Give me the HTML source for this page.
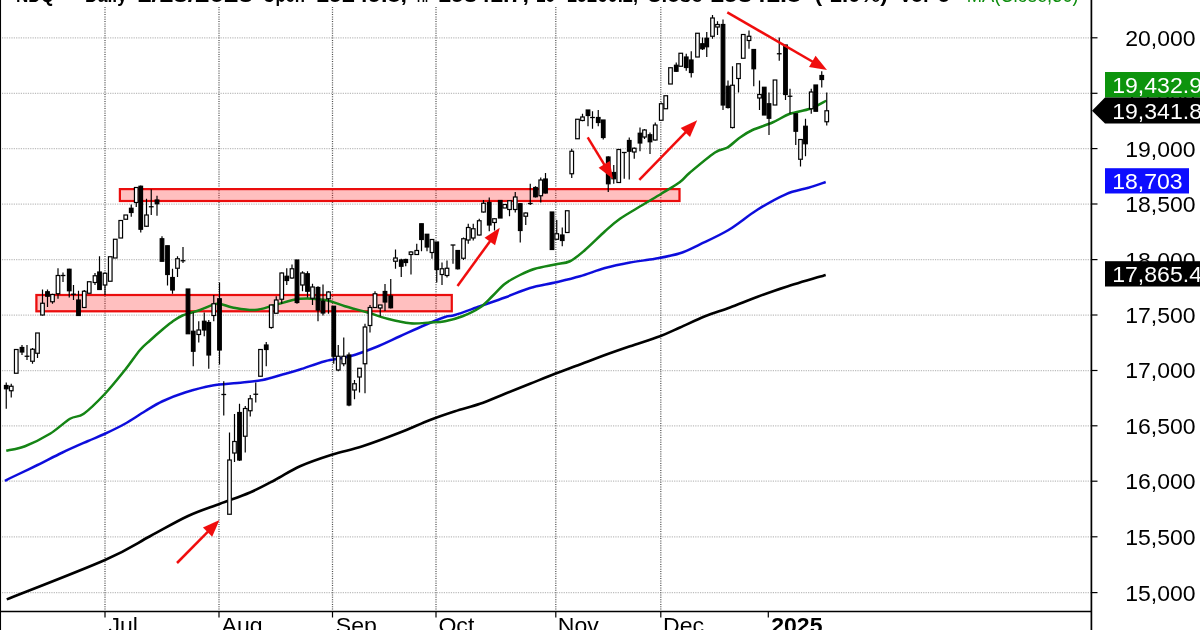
<!DOCTYPE html>
<html><head><meta charset="utf-8"><title>NDQ Daily Chart</title>
<style>html,body{margin:0;padding:0;background:#fff;overflow:hidden}svg{display:block}text{font-family:"Liberation Sans",Arial,sans-serif}</style>
</head><body>
<svg width="1200" height="630" viewBox="0 0 1200 630">
<defs><filter id="soft" x="-2%" y="-2%" width="104%" height="104%"><feGaussianBlur stdDeviation="0.45"/></filter></defs>
<rect width="1200" height="630" fill="#fff"/>
<g filter="url(#soft)">
<g stroke="#bdbdbd" stroke-width="1.25" stroke-dasharray="1.2 1.15" fill="none">
<line x1="2" y1="37.8" x2="1091" y2="37.8"/>
<line x1="2" y1="93.3" x2="1091" y2="93.3"/>
<line x1="2" y1="148.6" x2="1091" y2="148.6"/>
<line x1="2" y1="204.0" x2="1091" y2="204.0"/>
<line x1="2" y1="259.6" x2="1091" y2="259.6"/>
<line x1="2" y1="315.0" x2="1091" y2="315.0"/>
<line x1="2" y1="370.5" x2="1091" y2="370.5"/>
<line x1="2" y1="425.8" x2="1091" y2="425.8"/>
<line x1="2" y1="481.2" x2="1091" y2="481.2"/>
<line x1="2" y1="536.8" x2="1091" y2="536.8"/>
<line x1="2" y1="592.6" x2="1091" y2="592.6"/>
</g>
<g stroke="#505050" stroke-width="1.25" stroke-dasharray="1 1.35" fill="none">
<line x1="105.0" y1="7" x2="105.0" y2="611"/>
<line x1="219.0" y1="7" x2="219.0" y2="611"/>
<line x1="332.5" y1="7" x2="332.5" y2="611"/>
<line x1="436.0" y1="7" x2="436.0" y2="611"/>
<line x1="555.8" y1="7" x2="555.8" y2="611"/>
<line x1="660.8" y1="7" x2="660.8" y2="611"/>
</g>
<g fill="#ff0000" fill-opacity="0.25" stroke="#ea0808" stroke-width="2.2">
<rect x="36.4" y="295" width="415.4" height="16.3"/>
<rect x="119.9" y="189.1" width="559.6" height="11.9"/>
</g>
<path fill="none" stroke="#000" stroke-width="2.6" stroke-linejoin="round" d="M6.75,599.40 C23.12,592.83 81.12,570.52 105.00,560.00 C128.88,549.48 136.25,543.54 150.00,536.25 C163.75,528.96 175.83,521.67 187.50,516.25 C199.17,510.83 209.58,507.71 220.00,503.75 C230.42,499.79 240.83,496.46 250.00,492.50 C259.17,488.54 266.67,484.38 275.00,480.00 C283.33,475.62 290.42,470.50 300.00,466.25 C309.58,462.00 322.08,457.83 332.50,454.50 C342.92,451.17 351.25,449.92 362.50,446.25 C373.75,442.58 388.75,436.88 400.00,432.50 C411.25,428.12 420.83,423.54 430.00,420.00 C439.17,416.46 446.67,413.96 455.00,411.25 C463.33,408.54 471.67,406.67 480.00,403.75 C488.33,400.83 496.67,397.08 505.00,393.75 C513.33,390.42 521.67,387.08 530.00,383.75 C538.33,380.42 546.67,376.96 555.00,373.75 C563.33,370.54 571.67,367.62 580.00,364.50 C588.33,361.38 596.67,358.04 605.00,355.00 C613.33,351.96 620.83,349.38 630.00,346.25 C639.17,343.12 651.67,339.38 660.00,336.25 C668.33,333.12 672.50,330.83 680.00,327.50 C687.50,324.17 696.67,319.58 705.00,316.25 C713.33,312.92 721.33,310.71 730.00,307.50 C738.67,304.29 747.72,300.42 757.00,297.00 C766.28,293.58 774.25,290.68 785.70,287.00 C797.15,283.32 819.03,276.92 825.70,274.90"/>
<path fill="none" stroke="#1010dc" stroke-width="2.5" stroke-linejoin="round" d="M5.00,481.00 C6.25,480.33 7.08,479.67 12.50,477.00 C17.92,474.33 29.17,469.08 37.50,465.00 C45.83,460.92 54.17,456.46 62.50,452.50 C70.83,448.54 80.42,444.38 87.50,441.25 C94.58,438.12 98.75,436.67 105.00,433.75 C111.25,430.83 118.33,427.50 125.00,423.75 C131.67,420.00 138.75,415.00 145.00,411.25 C151.25,407.50 155.83,404.38 162.50,401.25 C169.17,398.12 176.67,395.12 185.00,392.50 C193.33,389.88 203.75,387.08 212.50,385.50 C221.25,383.92 229.17,383.92 237.50,383.00 C245.83,382.08 255.00,381.42 262.50,380.00 C270.00,378.58 276.25,376.25 282.50,374.50 C288.75,372.75 292.92,371.71 300.00,369.50 C307.08,367.29 316.67,363.46 325.00,361.25 C333.33,359.04 341.67,358.54 350.00,356.25 C358.33,353.96 366.67,350.83 375.00,347.50 C383.33,344.17 391.67,340.00 400.00,336.25 C408.33,332.50 417.50,328.21 425.00,325.00 C432.50,321.79 440.00,318.67 445.00,317.00 C450.00,315.33 449.17,316.79 455.00,315.00 C460.83,313.21 471.67,309.17 480.00,306.25 C488.33,303.33 496.67,300.54 505.00,297.50 C513.33,294.46 521.67,290.50 530.00,288.00 C538.33,285.50 546.67,284.46 555.00,282.50 C563.33,280.54 571.67,278.67 580.00,276.25 C588.33,273.83 596.67,270.29 605.00,268.00 C613.33,265.71 621.67,264.04 630.00,262.50 C638.33,260.96 646.67,260.29 655.00,258.75 C663.33,257.21 672.50,255.66 680.00,253.25 C687.50,250.84 691.92,248.18 700.00,244.30 C708.08,240.43 719.00,235.72 728.50,230.00 C738.00,224.28 747.47,215.95 757.00,210.00 C766.53,204.05 777.12,198.02 785.70,194.30 C794.28,190.58 801.83,189.75 808.50,187.70 C815.17,185.65 822.83,182.95 825.70,182.00"/>
<path fill="none" stroke="#128412" stroke-width="2.5" stroke-linejoin="round" d="M6.25,450.75 C9.38,450.00 17.71,449.08 25.00,446.25 C32.29,443.42 42.50,438.33 50.00,433.75 C57.50,429.17 64.38,422.08 70.00,418.75 C75.62,415.42 77.92,417.92 83.75,413.75 C89.58,409.58 98.12,401.04 105.00,393.75 C111.88,386.46 119.17,377.29 125.00,370.00 C130.83,362.71 135.83,354.92 140.00,350.00 C144.17,345.08 146.25,343.92 150.00,340.50 C153.75,337.08 158.83,332.58 162.50,329.50 C166.17,326.42 168.67,324.33 172.00,322.00 C175.33,319.67 177.83,317.50 182.50,315.50 C187.17,313.50 194.17,311.96 200.00,310.00 C205.83,308.04 212.08,304.17 217.50,303.75 C222.92,303.33 226.25,306.46 232.50,307.50 C238.75,308.54 247.92,310.42 255.00,310.00 C262.08,309.58 267.50,306.88 275.00,305.00 C282.50,303.12 291.67,299.58 300.00,298.75 C308.33,297.92 317.50,298.75 325.00,300.00 C332.50,301.25 337.92,304.17 345.00,306.25 C352.08,308.33 360.42,310.42 367.50,312.50 C374.58,314.58 380.42,316.96 387.50,318.75 C394.58,320.54 402.92,322.62 410.00,323.25 C417.08,323.88 424.17,322.83 430.00,322.50 C435.83,322.17 439.58,322.29 445.00,321.25 C450.42,320.21 456.67,318.54 462.50,316.25 C468.33,313.96 475.00,310.88 480.00,307.50 C485.00,304.12 488.33,299.96 492.50,296.00 C496.67,292.04 500.42,287.25 505.00,283.75 C509.58,280.25 515.00,277.50 520.00,275.00 C525.00,272.50 529.17,270.50 535.00,268.75 C540.83,267.00 549.17,265.75 555.00,264.50 C560.83,263.25 565.00,263.67 570.00,261.25 C575.00,258.83 579.17,255.00 585.00,250.00 C590.83,245.00 599.17,236.46 605.00,231.25 C610.83,226.04 613.75,223.12 620.00,218.75 C626.25,214.38 635.62,209.17 642.50,205.00 C649.38,200.83 655.00,197.58 661.25,193.75 C667.50,189.92 675.21,185.54 680.00,182.00 C684.79,178.46 684.17,177.42 690.00,172.50 C695.83,167.58 708.75,156.67 715.00,152.50 C721.25,148.33 723.33,150.00 727.50,147.50 C731.67,145.00 735.83,140.42 740.00,137.50 C744.17,134.58 747.08,132.50 752.50,130.00 C757.92,127.50 766.25,125.21 772.50,122.50 C778.75,119.79 783.75,116.04 790.00,113.75 C796.25,111.46 803.96,110.92 810.00,108.75 C816.04,106.58 823.54,102.08 826.25,100.75"/>
<g stroke="#000" stroke-width="1.2">
<line x1="6.25" y1="382.50" x2="6.25" y2="408.75"/>
<rect x="4.45" y="385.50" width="3.60" height="3.25" fill="#000"/>
<line x1="11.25" y1="383.75" x2="11.25" y2="397.50"/>
<rect x="9.45" y="386.25" width="3.60" height="4.50" fill="#fff"/>
<line x1="16.25" y1="349.50" x2="16.25" y2="373.25"/>
<rect x="14.45" y="349.50" width="3.60" height="23.75" fill="#fff"/>
<line x1="22.00" y1="345.00" x2="22.00" y2="355.00"/>
<rect x="20.20" y="347.50" width="3.60" height="4.50" fill="#000"/>
<line x1="27.00" y1="345.00" x2="27.00" y2="360.00"/>
<line x1="24.60" y1="356.25" x2="29.40" y2="356.25" stroke-width="1.3"/>
<line x1="32.50" y1="348.00" x2="32.50" y2="363.75"/>
<rect x="30.70" y="349.25" width="3.60" height="12.00" fill="#fff"/>
<line x1="37.50" y1="333.00" x2="37.50" y2="358.00"/>
<rect x="35.70" y="333.00" width="3.60" height="20.25" fill="#fff"/>
<line x1="42.50" y1="289.50" x2="42.50" y2="315.50"/>
<rect x="40.70" y="303.25" width="3.60" height="11.75" fill="#fff"/>
<line x1="47.50" y1="289.50" x2="47.50" y2="307.00"/>
<rect x="45.70" y="291.75" width="3.60" height="4.50" fill="#000"/>
<line x1="52.50" y1="293.75" x2="52.50" y2="303.75"/>
<rect x="50.70" y="294.50" width="3.60" height="7.25" fill="#fff"/>
<line x1="58.00" y1="268.25" x2="58.00" y2="298.75"/>
<rect x="56.20" y="275.50" width="3.60" height="18.25" fill="#fff"/>
<line x1="63.00" y1="272.50" x2="63.00" y2="282.00"/>
<line x1="60.60" y1="275.50" x2="65.40" y2="275.50" stroke-width="1.3"/>
<line x1="69.25" y1="268.75" x2="69.25" y2="297.50"/>
<rect x="67.45" y="269.25" width="3.60" height="21.50" fill="#000"/>
<line x1="73.50" y1="285.00" x2="73.50" y2="300.00"/>
<line x1="71.10" y1="294.25" x2="75.90" y2="294.25" stroke-width="1.3"/>
<line x1="78.50" y1="290.75" x2="78.50" y2="315.50"/>
<rect x="76.70" y="300.00" width="3.60" height="15.50" fill="#000"/>
<line x1="84.25" y1="290.00" x2="84.25" y2="308.00"/>
<rect x="82.45" y="291.25" width="3.60" height="16.25" fill="#fff"/>
<line x1="89.25" y1="281.75" x2="89.25" y2="293.25"/>
<rect x="87.45" y="281.75" width="3.60" height="11.50" fill="#fff"/>
<line x1="95.00" y1="273.00" x2="95.00" y2="285.00"/>
<rect x="93.20" y="275.75" width="3.60" height="6.75" fill="#fff"/>
<line x1="99.50" y1="256.25" x2="99.50" y2="290.00"/>
<rect x="97.70" y="272.00" width="3.60" height="17.50" fill="#000"/>
<line x1="105.00" y1="272.50" x2="105.00" y2="295.00"/>
<rect x="103.20" y="273.25" width="3.60" height="11.75" fill="#fff"/>
<line x1="110.25" y1="256.75" x2="110.25" y2="281.25"/>
<rect x="108.45" y="256.75" width="3.60" height="24.50" fill="#fff"/>
<line x1="115.25" y1="239.25" x2="115.25" y2="258.00"/>
<rect x="113.45" y="239.25" width="3.60" height="18.75" fill="#fff"/>
<line x1="120.75" y1="220.50" x2="120.75" y2="238.00"/>
<rect x="118.95" y="220.50" width="3.60" height="17.50" fill="#fff"/>
<line x1="125.75" y1="215.00" x2="125.75" y2="219.25"/>
<rect x="123.95" y="215.00" width="3.60" height="4.25" fill="#fff"/>
<line x1="131.25" y1="204.50" x2="131.25" y2="216.75"/>
<rect x="129.45" y="208.25" width="3.60" height="4.25" fill="#000"/>
<line x1="136.25" y1="187.50" x2="136.25" y2="207.00"/>
<rect x="134.45" y="187.50" width="3.60" height="15.00" fill="#fff"/>
<line x1="140.75" y1="185.50" x2="140.75" y2="232.50"/>
<rect x="138.95" y="186.25" width="3.60" height="43.00" fill="#000"/>
<line x1="146.50" y1="198.75" x2="146.50" y2="227.00"/>
<rect x="144.70" y="215.00" width="3.60" height="11.25" fill="#fff"/>
<line x1="151.25" y1="189.50" x2="151.25" y2="215.00"/>
<line x1="148.85" y1="206.75" x2="153.65" y2="206.75" stroke-width="1.3"/>
<line x1="157.00" y1="195.75" x2="157.00" y2="215.75"/>
<rect x="155.20" y="200.00" width="3.60" height="3.75" fill="#000"/>
<line x1="162.00" y1="236.25" x2="162.00" y2="261.50"/>
<rect x="160.20" y="238.75" width="3.60" height="22.50" fill="#000"/>
<line x1="167.50" y1="245.75" x2="167.50" y2="285.50"/>
<rect x="165.70" y="245.75" width="3.60" height="28.75" fill="#000"/>
<line x1="172.50" y1="268.75" x2="172.50" y2="293.75"/>
<rect x="170.70" y="277.50" width="3.60" height="12.50" fill="#000"/>
<line x1="177.50" y1="256.25" x2="177.50" y2="277.00"/>
<rect x="175.70" y="258.75" width="3.60" height="9.50" fill="#fff"/>
<line x1="183.00" y1="247.00" x2="183.00" y2="263.00"/>
<line x1="180.60" y1="260.75" x2="185.40" y2="260.75" stroke-width="1.3"/>
<line x1="188.00" y1="289.00" x2="188.00" y2="333.75"/>
<rect x="186.20" y="289.00" width="3.60" height="44.75" fill="#000"/>
<line x1="193.25" y1="312.50" x2="193.25" y2="366.25"/>
<rect x="191.45" y="331.25" width="3.60" height="20.00" fill="#000"/>
<line x1="198.75" y1="321.25" x2="198.75" y2="342.50"/>
<rect x="196.95" y="330.00" width="3.60" height="4.50" fill="#fff"/>
<line x1="204.25" y1="312.50" x2="204.25" y2="336.25"/>
<rect x="202.45" y="321.25" width="3.60" height="8.75" fill="#000"/>
<line x1="208.75" y1="320.00" x2="208.75" y2="368.75"/>
<rect x="206.95" y="322.50" width="3.60" height="32.50" fill="#000"/>
<line x1="213.75" y1="295.00" x2="213.75" y2="321.25"/>
<rect x="211.95" y="303.75" width="3.60" height="11.75" fill="#fff"/>
<line x1="219.50" y1="282.50" x2="219.50" y2="364.50"/>
<rect x="217.70" y="298.75" width="3.60" height="51.25" fill="#000"/>
<line x1="223.75" y1="381.25" x2="223.75" y2="415.50"/>
<line x1="221.35" y1="394.50" x2="226.15" y2="394.50" stroke-width="1.3"/>
<line x1="229.50" y1="432.50" x2="229.50" y2="514.25"/>
<rect x="227.70" y="460.00" width="3.60" height="54.25" fill="#fff"/>
<line x1="234.50" y1="414.00" x2="234.50" y2="462.00"/>
<rect x="232.70" y="441.50" width="3.60" height="11.50" fill="#fff"/>
<line x1="239.50" y1="403.75" x2="239.50" y2="461.00"/>
<rect x="237.70" y="412.50" width="3.60" height="47.50" fill="#000"/>
<line x1="245.25" y1="406.00" x2="245.25" y2="452.50"/>
<rect x="243.45" y="408.50" width="3.60" height="27.75" fill="#fff"/>
<line x1="250.25" y1="395.00" x2="250.25" y2="416.50"/>
<rect x="248.45" y="398.75" width="3.60" height="12.00" fill="#fff"/>
<line x1="255.75" y1="382.50" x2="255.75" y2="402.50"/>
<line x1="253.35" y1="394.25" x2="258.15" y2="394.25" stroke-width="1.3"/>
<line x1="260.50" y1="349.50" x2="260.50" y2="376.25"/>
<rect x="258.70" y="349.50" width="3.60" height="26.75" fill="#fff"/>
<line x1="266.25" y1="342.00" x2="266.25" y2="366.25"/>
<rect x="264.45" y="345.00" width="3.60" height="4.50" fill="#000"/>
<line x1="271.25" y1="305.00" x2="271.25" y2="328.75"/>
<rect x="269.45" y="305.00" width="3.60" height="22.50" fill="#fff"/>
<line x1="276.25" y1="296.25" x2="276.25" y2="313.75"/>
<rect x="274.45" y="300.00" width="3.60" height="13.25" fill="#fff"/>
<line x1="281.75" y1="272.50" x2="281.75" y2="303.75"/>
<rect x="279.95" y="273.00" width="3.60" height="26.25" fill="#fff"/>
<line x1="286.75" y1="268.25" x2="286.75" y2="285.00"/>
<rect x="284.95" y="276.25" width="3.60" height="4.25" fill="#000"/>
<line x1="292.00" y1="264.50" x2="292.00" y2="278.75"/>
<rect x="290.20" y="268.75" width="3.60" height="9.25" fill="#fff"/>
<line x1="297.00" y1="260.00" x2="297.00" y2="303.75"/>
<rect x="295.20" y="260.00" width="3.60" height="42.50" fill="#000"/>
<line x1="302.50" y1="271.25" x2="302.50" y2="291.25"/>
<rect x="300.70" y="273.00" width="3.60" height="12.00" fill="#fff"/>
<line x1="307.50" y1="271.25" x2="307.50" y2="297.50"/>
<rect x="305.70" y="273.75" width="3.60" height="17.50" fill="#000"/>
<line x1="312.50" y1="283.75" x2="312.50" y2="305.00"/>
<rect x="310.70" y="287.00" width="3.60" height="11.25" fill="#fff"/>
<line x1="318.00" y1="286.25" x2="318.00" y2="321.25"/>
<rect x="316.20" y="287.50" width="3.60" height="22.50" fill="#000"/>
<line x1="323.00" y1="284.50" x2="323.00" y2="315.50"/>
<rect x="321.20" y="301.25" width="3.60" height="11.75" fill="#000"/>
<line x1="328.50" y1="291.25" x2="328.50" y2="313.75"/>
<rect x="326.70" y="292.00" width="3.60" height="6.75" fill="#fff"/>
<line x1="333.75" y1="306.00" x2="333.75" y2="363.75"/>
<rect x="331.95" y="306.25" width="3.60" height="50.00" fill="#000"/>
<line x1="338.25" y1="345.00" x2="338.25" y2="371.25"/>
<rect x="336.45" y="356.25" width="3.60" height="13.75" fill="#fff"/>
<line x1="343.75" y1="337.50" x2="343.75" y2="366.25"/>
<rect x="341.95" y="356.25" width="3.60" height="7.50" fill="#fff"/>
<line x1="349.00" y1="352.50" x2="349.00" y2="406.25"/>
<rect x="347.20" y="355.00" width="3.60" height="50.00" fill="#000"/>
<line x1="354.50" y1="380.00" x2="354.50" y2="399.25"/>
<rect x="352.70" y="383.75" width="3.60" height="6.25" fill="#fff"/>
<line x1="359.50" y1="368.00" x2="359.50" y2="392.50"/>
<rect x="357.70" y="368.25" width="3.60" height="8.75" fill="#fff"/>
<line x1="365.00" y1="323.75" x2="365.00" y2="393.25"/>
<rect x="363.20" y="327.00" width="3.60" height="36.75" fill="#fff"/>
<line x1="370.00" y1="305.00" x2="370.00" y2="332.50"/>
<rect x="368.20" y="307.50" width="3.60" height="18.00" fill="#fff"/>
<line x1="375.00" y1="291.25" x2="375.00" y2="308.00"/>
<rect x="373.20" y="293.75" width="3.60" height="13.75" fill="#fff"/>
<line x1="380.25" y1="305.00" x2="380.25" y2="316.25"/>
<rect x="378.45" y="305.00" width="3.60" height="3.00" fill="#fff"/>
<line x1="385.00" y1="284.00" x2="385.00" y2="311.00"/>
<rect x="383.20" y="291.50" width="3.60" height="10.50" fill="#000"/>
<line x1="390.75" y1="279.00" x2="390.75" y2="308.50"/>
<rect x="388.95" y="296.00" width="3.60" height="11.75" fill="#000"/>
<line x1="395.50" y1="249.50" x2="395.50" y2="268.75"/>
<rect x="393.70" y="258.00" width="3.60" height="3.25" fill="#fff"/>
<line x1="401.25" y1="258.75" x2="401.25" y2="277.00"/>
<rect x="399.45" y="260.00" width="3.60" height="6.25" fill="#000"/>
<line x1="405.75" y1="258.75" x2="405.75" y2="266.25"/>
<rect x="403.95" y="259.50" width="3.60" height="3.00" fill="#000"/>
<line x1="411.00" y1="251.25" x2="411.00" y2="274.50"/>
<rect x="409.20" y="252.00" width="3.60" height="2.50" fill="#fff"/>
<line x1="416.75" y1="243.75" x2="416.75" y2="255.00"/>
<rect x="414.95" y="250.50" width="3.60" height="4.00" fill="#fff"/>
<line x1="421.50" y1="223.75" x2="421.50" y2="251.25"/>
<rect x="419.70" y="223.75" width="3.60" height="15.75" fill="#000"/>
<line x1="427.00" y1="234.00" x2="427.00" y2="251.25"/>
<rect x="425.20" y="234.25" width="3.60" height="12.75" fill="#000"/>
<line x1="432.00" y1="239.00" x2="432.00" y2="258.75"/>
<rect x="430.20" y="239.50" width="3.60" height="13.00" fill="#fff"/>
<line x1="436.75" y1="242.00" x2="436.75" y2="282.50"/>
<rect x="434.95" y="242.00" width="3.60" height="27.50" fill="#000"/>
<line x1="442.00" y1="262.50" x2="442.00" y2="285.00"/>
<rect x="440.20" y="268.75" width="3.60" height="5.75" fill="#fff"/>
<line x1="447.00" y1="260.50" x2="447.00" y2="277.50"/>
<rect x="445.20" y="268.25" width="3.60" height="7.25" fill="#fff"/>
<line x1="453.00" y1="245.00" x2="453.00" y2="263.75"/>
<line x1="450.60" y1="245.00" x2="455.40" y2="245.00" stroke-width="1.3"/>
<line x1="457.75" y1="250.00" x2="457.75" y2="269.50"/>
<rect x="455.95" y="250.50" width="3.60" height="18.25" fill="#000"/>
<line x1="463.50" y1="237.50" x2="463.50" y2="260.00"/>
<rect x="461.70" y="238.75" width="3.60" height="19.50" fill="#fff"/>
<line x1="468.25" y1="223.75" x2="468.25" y2="243.75"/>
<rect x="466.45" y="227.50" width="3.60" height="12.50" fill="#fff"/>
<line x1="473.25" y1="223.75" x2="473.25" y2="240.50"/>
<rect x="471.45" y="228.75" width="3.60" height="9.25" fill="#fff"/>
<line x1="479.25" y1="218.75" x2="479.25" y2="235.50"/>
<rect x="477.45" y="220.75" width="3.60" height="14.25" fill="#fff"/>
<line x1="483.50" y1="200.00" x2="483.50" y2="212.50"/>
<rect x="481.70" y="203.25" width="3.60" height="8.75" fill="#fff"/>
<line x1="489.25" y1="197.50" x2="489.25" y2="231.25"/>
<rect x="487.45" y="202.50" width="3.60" height="22.50" fill="#000"/>
<line x1="494.50" y1="218.00" x2="494.50" y2="230.50"/>
<rect x="492.70" y="218.75" width="3.60" height="3.75" fill="#fff"/>
<line x1="500.25" y1="200.50" x2="500.25" y2="218.00"/>
<rect x="498.45" y="200.50" width="3.60" height="17.50" fill="#000"/>
<line x1="504.75" y1="204.50" x2="504.75" y2="208.00"/>
<rect x="502.95" y="204.50" width="3.60" height="3.50" fill="#fff"/>
<line x1="509.50" y1="200.00" x2="509.50" y2="216.25"/>
<rect x="507.70" y="200.75" width="3.60" height="8.75" fill="#fff"/>
<line x1="515.25" y1="192.00" x2="515.25" y2="212.50"/>
<rect x="513.45" y="197.00" width="3.60" height="12.50" fill="#fff"/>
<line x1="520.25" y1="203.00" x2="520.25" y2="242.50"/>
<rect x="518.45" y="203.75" width="3.60" height="26.75" fill="#000"/>
<line x1="525.75" y1="212.50" x2="525.75" y2="225.00"/>
<rect x="523.95" y="213.00" width="3.60" height="3.25" fill="#fff"/>
<line x1="530.25" y1="183.75" x2="530.25" y2="205.00"/>
<line x1="527.85" y1="203.50" x2="532.65" y2="203.50" stroke-width="1.3"/>
<line x1="535.50" y1="186.25" x2="535.50" y2="197.50"/>
<rect x="533.70" y="187.50" width="3.60" height="9.25" fill="#000"/>
<line x1="540.75" y1="177.50" x2="540.75" y2="202.50"/>
<rect x="538.95" y="180.00" width="3.60" height="15.75" fill="#fff"/>
<line x1="545.50" y1="173.00" x2="545.50" y2="193.50"/>
<rect x="543.70" y="179.00" width="3.60" height="14.00" fill="#000"/>
<line x1="552.00" y1="212.00" x2="552.00" y2="249.50"/>
<rect x="550.20" y="212.00" width="3.60" height="37.50" fill="#000"/>
<line x1="556.75" y1="220.00" x2="556.75" y2="240.00"/>
<rect x="554.95" y="233.75" width="3.60" height="5.50" fill="#fff"/>
<line x1="562.25" y1="227.50" x2="562.25" y2="246.25"/>
<rect x="560.45" y="235.00" width="3.60" height="5.50" fill="#000"/>
<line x1="567.25" y1="210.75" x2="567.25" y2="232.50"/>
<rect x="565.45" y="210.75" width="3.60" height="21.75" fill="#fff"/>
<line x1="571.75" y1="148.75" x2="571.75" y2="178.00"/>
<rect x="569.95" y="151.25" width="3.60" height="22.50" fill="#fff"/>
<line x1="577.50" y1="119.25" x2="577.50" y2="138.75"/>
<rect x="575.70" y="119.25" width="3.60" height="19.50" fill="#fff"/>
<line x1="582.50" y1="113.75" x2="582.50" y2="121.25"/>
<rect x="580.70" y="117.00" width="3.60" height="3.50" fill="#fff"/>
<line x1="588.00" y1="110.00" x2="588.00" y2="126.25"/>
<rect x="586.20" y="110.00" width="3.60" height="5.50" fill="#000"/>
<line x1="592.50" y1="111.25" x2="592.50" y2="128.75"/>
<line x1="590.10" y1="117.50" x2="594.90" y2="117.50" stroke-width="1.3"/>
<line x1="598.25" y1="110.00" x2="598.25" y2="126.25"/>
<rect x="596.45" y="117.50" width="3.60" height="5.00" fill="#000"/>
<line x1="603.25" y1="120.00" x2="603.25" y2="139.50"/>
<rect x="601.45" y="120.00" width="3.60" height="17.50" fill="#000"/>
<line x1="608.25" y1="156.25" x2="608.25" y2="192.00"/>
<rect x="606.45" y="157.00" width="3.60" height="26.75" fill="#000"/>
<line x1="613.75" y1="165.00" x2="613.75" y2="183.75"/>
<rect x="611.95" y="172.50" width="3.60" height="6.25" fill="#000"/>
<line x1="618.75" y1="149.50" x2="618.75" y2="182.50"/>
<rect x="616.95" y="149.50" width="3.60" height="33.00" fill="#fff"/>
<line x1="624.25" y1="152.50" x2="624.25" y2="178.75"/>
<line x1="621.85" y1="152.50" x2="626.65" y2="152.50" stroke-width="1.3"/>
<line x1="629.25" y1="137.50" x2="629.25" y2="179.50"/>
<rect x="627.45" y="140.50" width="3.60" height="10.75" fill="#000"/>
<line x1="634.25" y1="147.50" x2="634.25" y2="158.75"/>
<rect x="632.45" y="148.25" width="3.60" height="3.75" fill="#fff"/>
<line x1="640.00" y1="127.50" x2="640.00" y2="151.25"/>
<rect x="638.20" y="133.25" width="3.60" height="9.75" fill="#000"/>
<line x1="644.50" y1="129.00" x2="644.50" y2="139.00"/>
<rect x="642.70" y="130.00" width="3.60" height="7.00" fill="#fff"/>
<line x1="650.00" y1="132.50" x2="650.00" y2="154.00"/>
<rect x="648.20" y="134.75" width="3.60" height="7.00" fill="#000"/>
<line x1="655.25" y1="122.50" x2="655.25" y2="140.50"/>
<rect x="653.45" y="125.00" width="3.60" height="15.00" fill="#fff"/>
<line x1="661.25" y1="102.50" x2="661.25" y2="120.50"/>
<rect x="659.45" y="103.75" width="3.60" height="16.50" fill="#fff"/>
<line x1="665.75" y1="95.75" x2="665.75" y2="108.75"/>
<rect x="663.95" y="95.75" width="3.60" height="13.00" fill="#fff"/>
<line x1="670.50" y1="67.75" x2="670.50" y2="84.00"/>
<rect x="668.70" y="67.75" width="3.60" height="16.25" fill="#fff"/>
<line x1="676.25" y1="62.50" x2="676.25" y2="72.00"/>
<rect x="674.45" y="65.25" width="3.60" height="6.00" fill="#000"/>
<line x1="680.75" y1="53.25" x2="680.75" y2="66.25"/>
<rect x="678.95" y="53.25" width="3.60" height="13.00" fill="#fff"/>
<line x1="686.25" y1="53.75" x2="686.25" y2="70.75"/>
<rect x="684.45" y="57.00" width="3.60" height="10.50" fill="#000"/>
<line x1="691.25" y1="51.25" x2="691.25" y2="77.50"/>
<rect x="689.45" y="60.00" width="3.60" height="12.50" fill="#000"/>
<line x1="697.50" y1="33.25" x2="697.50" y2="57.00"/>
<rect x="695.70" y="33.25" width="3.60" height="23.75" fill="#fff"/>
<line x1="702.50" y1="37.50" x2="702.50" y2="50.00"/>
<rect x="700.70" y="43.75" width="3.60" height="5.00" fill="#000"/>
<line x1="706.75" y1="32.00" x2="706.75" y2="57.00"/>
<rect x="704.95" y="38.25" width="3.60" height="8.50" fill="#000"/>
<line x1="712.50" y1="15.00" x2="712.50" y2="38.75"/>
<rect x="710.70" y="18.00" width="3.60" height="18.25" fill="#fff"/>
<line x1="717.50" y1="21.25" x2="717.50" y2="35.00"/>
<rect x="715.70" y="24.50" width="3.60" height="2.50" fill="#fff"/>
<line x1="723.00" y1="19.50" x2="723.00" y2="110.00"/>
<rect x="721.20" y="24.50" width="3.60" height="80.50" fill="#000"/>
<line x1="728.00" y1="80.50" x2="728.00" y2="108.50"/>
<rect x="726.20" y="86.25" width="3.60" height="21.25" fill="#000"/>
<line x1="732.50" y1="66.25" x2="732.50" y2="128.50"/>
<rect x="730.70" y="85.25" width="3.60" height="42.25" fill="#fff"/>
<line x1="738.50" y1="63.75" x2="738.50" y2="92.50"/>
<rect x="736.70" y="63.75" width="3.60" height="14.75" fill="#fff"/>
<line x1="743.25" y1="34.50" x2="743.25" y2="58.25"/>
<rect x="741.45" y="34.50" width="3.60" height="23.75" fill="#fff"/>
<line x1="749.00" y1="30.50" x2="749.00" y2="48.75"/>
<rect x="747.20" y="36.25" width="3.60" height="4.25" fill="#fff"/>
<line x1="753.75" y1="49.50" x2="753.75" y2="86.25"/>
<rect x="751.95" y="49.50" width="3.60" height="19.25" fill="#000"/>
<line x1="759.50" y1="80.50" x2="759.50" y2="110.00"/>
<rect x="757.70" y="94.50" width="3.60" height="3.50" fill="#fff"/>
<line x1="764.25" y1="87.25" x2="764.25" y2="115.00"/>
<rect x="762.45" y="87.25" width="3.60" height="27.75" fill="#000"/>
<line x1="769.00" y1="92.50" x2="769.00" y2="135.00"/>
<rect x="767.20" y="103.75" width="3.60" height="14.50" fill="#000"/>
<line x1="775.00" y1="80.00" x2="775.00" y2="105.00"/>
<rect x="773.20" y="80.00" width="3.60" height="25.00" fill="#fff"/>
<line x1="779.25" y1="37.50" x2="779.25" y2="60.75"/>
<line x1="776.85" y1="53.75" x2="781.65" y2="53.75" stroke-width="1.3"/>
<line x1="785.50" y1="45.00" x2="785.50" y2="100.00"/>
<rect x="783.70" y="45.00" width="3.60" height="49.50" fill="#000"/>
<line x1="790.00" y1="88.75" x2="790.00" y2="113.75"/>
<line x1="787.60" y1="96.25" x2="792.40" y2="96.25" stroke-width="1.3"/>
<line x1="795.75" y1="113.75" x2="795.75" y2="145.00"/>
<rect x="793.95" y="113.75" width="3.60" height="17.50" fill="#000"/>
<line x1="800.50" y1="139.50" x2="800.50" y2="166.50"/>
<rect x="798.70" y="139.50" width="3.60" height="19.75" fill="#fff"/>
<line x1="805.50" y1="118.75" x2="805.50" y2="156.25"/>
<rect x="803.70" y="126.25" width="3.60" height="17.50" fill="#000"/>
<line x1="811.25" y1="88.75" x2="811.25" y2="113.75"/>
<rect x="809.45" y="92.00" width="3.60" height="16.75" fill="#fff"/>
<line x1="815.75" y1="85.00" x2="815.75" y2="111.25"/>
<rect x="813.95" y="85.00" width="3.60" height="26.25" fill="#000"/>
<line x1="821.75" y1="71.25" x2="821.75" y2="87.50"/>
<rect x="819.95" y="75.50" width="3.60" height="4.00" fill="#000"/>
<line x1="826.75" y1="92.50" x2="826.75" y2="125.50"/>
<rect x="824.95" y="110.75" width="3.60" height="11.00" fill="#fff"/>
</g>
<line x1="177.00" y1="563.00" x2="208.96" y2="530.67" stroke="#f01010" stroke-width="2.5"/><polygon points="219.50,520.00 212.17,536.66 202.93,527.52" fill="#f01010"/>
<line x1="457.50" y1="285.90" x2="490.97" y2="239.93" stroke="#f01010" stroke-width="2.5"/><polygon points="499.80,227.80 495.05,245.37 484.54,237.72" fill="#f01010"/>
<line x1="587.70" y1="137.30" x2="605.22" y2="166.18" stroke="#f01010" stroke-width="2.5"/><polygon points="613.00,179.00 598.62,167.84 609.74,161.09" fill="#f01010"/>
<line x1="639.30" y1="179.80" x2="686.74" y2="131.05" stroke="#f01010" stroke-width="2.5"/><polygon points="697.20,120.30 690.00,137.02 680.69,127.95" fill="#f01010"/>
<line x1="727.30" y1="12.30" x2="814.02" y2="62.49" stroke="#f01010" stroke-width="2.5"/><polygon points="827.00,70.00 809.03,67.11 815.54,55.86" fill="#f01010"/>
<g stroke="#000" fill="none">
<line x1="0.5" y1="0" x2="0.5" y2="630" stroke-width="1.1"/>
<line x1="1091.4" y1="0" x2="1091.4" y2="630" stroke-width="1.7"/>
<line x1="0" y1="611.5" x2="1092" y2="611.5" stroke-width="1.5"/>
<line x1="1092" y1="37.8" x2="1097.5" y2="37.8" stroke-width="1.2"/>
<line x1="1092" y1="93.3" x2="1097.5" y2="93.3" stroke-width="1.2"/>
<line x1="1092" y1="148.6" x2="1097.5" y2="148.6" stroke-width="1.2"/>
<line x1="1092" y1="204.0" x2="1097.5" y2="204.0" stroke-width="1.2"/>
<line x1="1092" y1="259.6" x2="1097.5" y2="259.6" stroke-width="1.2"/>
<line x1="1092" y1="315.0" x2="1097.5" y2="315.0" stroke-width="1.2"/>
<line x1="1092" y1="370.5" x2="1097.5" y2="370.5" stroke-width="1.2"/>
<line x1="1092" y1="425.8" x2="1097.5" y2="425.8" stroke-width="1.2"/>
<line x1="1092" y1="481.2" x2="1097.5" y2="481.2" stroke-width="1.2"/>
<line x1="1092" y1="536.8" x2="1097.5" y2="536.8" stroke-width="1.2"/>
<line x1="1092" y1="592.6" x2="1097.5" y2="592.6" stroke-width="1.2"/>
<line x1="105.0" y1="611" x2="105.0" y2="617.5" stroke-width="1.2"/>
<line x1="219.0" y1="611" x2="219.0" y2="617.5" stroke-width="1.2"/>
<line x1="332.5" y1="611" x2="332.5" y2="617.5" stroke-width="1.2"/>
<line x1="436.0" y1="611" x2="436.0" y2="617.5" stroke-width="1.2"/>
<line x1="555.8" y1="611" x2="555.8" y2="617.5" stroke-width="1.2"/>
<line x1="660.8" y1="611" x2="660.8" y2="617.5" stroke-width="1.2"/>
<line x1="768.3" y1="611" x2="768.3" y2="617.5" stroke-width="1.2"/>
</g>
<g font-size="22.3" fill="#000">
<text x="1125.2" y="45.7" textLength="70.4" lengthAdjust="spacingAndGlyphs">20,000</text>
<text x="1125.2" y="101.2" textLength="70.4" lengthAdjust="spacingAndGlyphs">19,500</text>
<text x="1125.2" y="156.5" textLength="70.4" lengthAdjust="spacingAndGlyphs">19,000</text>
<text x="1125.2" y="211.9" textLength="70.4" lengthAdjust="spacingAndGlyphs">18,500</text>
<text x="1125.2" y="267.5" textLength="70.4" lengthAdjust="spacingAndGlyphs">18,000</text>
<text x="1125.2" y="322.9" textLength="70.4" lengthAdjust="spacingAndGlyphs">17,500</text>
<text x="1125.2" y="378.4" textLength="70.4" lengthAdjust="spacingAndGlyphs">17,000</text>
<text x="1125.2" y="433.7" textLength="70.4" lengthAdjust="spacingAndGlyphs">16,500</text>
<text x="1125.2" y="489.1" textLength="70.4" lengthAdjust="spacingAndGlyphs">16,000</text>
<text x="1125.2" y="544.7" textLength="70.4" lengthAdjust="spacingAndGlyphs">15,500</text>
<text x="1125.2" y="600.5" textLength="70.4" lengthAdjust="spacingAndGlyphs">15,000</text>
</g>
<rect x="1105" y="72" width="95" height="25.5" fill="#0c940c"/>
<text x="1112.2" y="92.6" font-size="22.3" fill="#fff" textLength="89.8" lengthAdjust="spacingAndGlyphs">19,432.9</text>
<polygon points="1092,110.8 1105,97.4 1200,97.4 1200,123.6 1105,123.6" fill="#000"/>
<text x="1112.2" y="118.6" font-size="22.3" fill="#fff" textLength="89.8" lengthAdjust="spacingAndGlyphs">19,341.8</text>
<rect x="1105" y="168.2" width="84" height="25.3" fill="#1010ff"/>
<text x="1112.2" y="189" font-size="22.3" fill="#fff" textLength="70.4" lengthAdjust="spacingAndGlyphs">18,703</text>
<rect x="1105" y="261.2" width="95" height="25.3" fill="#000"/>
<text x="1112.2" y="281.8" font-size="22.3" fill="#fff" textLength="89.8" lengthAdjust="spacingAndGlyphs">17,865.4</text>
<g font-size="22.3" fill="#000">
<text x="108.4" y="633.2" textLength="29.5" lengthAdjust="spacingAndGlyphs">Jul</text>
<text x="221.6" y="633.2" textLength="41.1" lengthAdjust="spacingAndGlyphs">Aug</text>
<text x="335.8" y="633.2" textLength="41.1" lengthAdjust="spacingAndGlyphs">Sep</text>
<text x="438.4" y="633.2" textLength="35.9" lengthAdjust="spacingAndGlyphs">Oct</text>
<text x="557.8" y="633.2" textLength="41.0" lengthAdjust="spacingAndGlyphs">Nov</text>
<text x="663.0" y="633.2" textLength="41.0" lengthAdjust="spacingAndGlyphs">Dec</text>
<text x="771.2" y="633.2" font-weight="bold" textLength="51.3" lengthAdjust="spacingAndGlyphs">2025</text>
</g>
<g font-size="20" font-weight="bold" fill="#000">
<text x="16.0" y="2.3" textLength="38.0" lengthAdjust="spacingAndGlyphs">NDQ</text>
<text x="63.0" y="2.3" textLength="7.0" lengthAdjust="spacingAndGlyphs">-</text>
<text x="85.0" y="2.3" textLength="42.0" lengthAdjust="spacingAndGlyphs">Daily</text>
<text x="137.0" y="2.3" textLength="116.0" lengthAdjust="spacingAndGlyphs">1/15/2025</text>
<text x="262.5" y="2.3" textLength="42.5" lengthAdjust="spacingAndGlyphs">Open</text>
<text x="316.0" y="2.3" textLength="91.0" lengthAdjust="spacingAndGlyphs">19249.8,</text>
<text x="417.0" y="2.3" textLength="11.0" lengthAdjust="spacingAndGlyphs">Hi</text>
<text x="438.0" y="2.3" textLength="91.0" lengthAdjust="spacingAndGlyphs">19341.7,</text>
<text x="536.0" y="2.3" textLength="19.0" lengthAdjust="spacingAndGlyphs">Lo</text>
<text x="566.7" y="2.3" textLength="71.5" lengthAdjust="spacingAndGlyphs">19260.2,</text>
<text x="646.7" y="2.3" textLength="56.0" lengthAdjust="spacingAndGlyphs">Close</text>
<text x="710.0" y="2.3" textLength="91.0" lengthAdjust="spacingAndGlyphs">19341.8</text>
<text x="814.7" y="2.3" textLength="73.0" lengthAdjust="spacingAndGlyphs">(-1.0%)</text>
<text x="898.7" y="2.3" textLength="30.0" lengthAdjust="spacingAndGlyphs">Vol</text>
<text x="937.0" y="2.3" textLength="13.5" lengthAdjust="spacingAndGlyphs">0</text>
<text x="966.7" y="2.3" fill="#0a8c0a" font-weight="normal" textLength="112" lengthAdjust="spacingAndGlyphs">MA(Close,50)</text>
</g>
</g>
</svg>
</body></html>
